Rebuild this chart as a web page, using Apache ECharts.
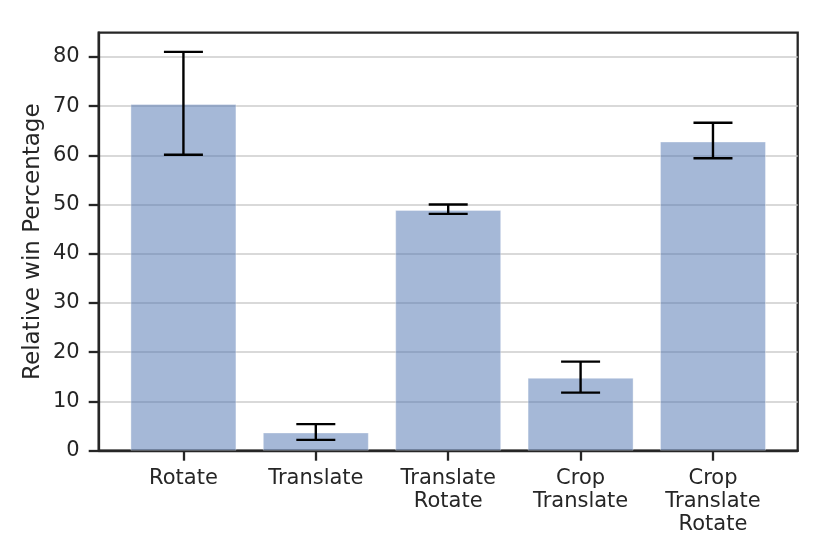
<!DOCTYPE html>
<html>
<head>
<meta charset="utf-8">
<script src="https://cdn.jsdelivr.net/npm/echarts@6/dist/echarts.min.js"></script>
<style>
html, body { margin: 0; padding: 0; background: #fff; }
#chart1 { width: 830px; height: 554px; }
</style>
</head>
<body>
<div id="chart1"></div>
<script>
// categories, one per bar
var categories = ["Rotate", "Translate", "Translate\nRotate", "Crop\nTranslate", "Crop\nTranslate\nRotate"];
var positions = [0, 1, 2, 3, 4];

// bar heights (relative win %)
var winPct = [70.4, 3.7, 48.9, 14.8, 62.8];

// error bar ends
var errLow = [60.1, 2.2, 48.1, 11.8, 59.4];
var errHigh = [81.0, 5.4, 50.0, 18.1, 66.6];

var yTicks = [0, 10, 20, 30, 40, 50, 60, 70, 80];

var textColor = "#262626";
var font = "DejaVu Sans";

var barData = [];
var errData = [];
for (let i = 0; i < positions.length; i++) {
	barData.push([positions[i], winPct[i]]);
	errData.push([positions[i], errLow[i], errHigh[i]]);
}

var chart = echarts.init(document.getElementById("chart1"));

//误差线
function renderErr(params, api) {
	var x = api.value(0);
	var lo = api.coord([x, api.value(1)]);
	var hi = api.coord([x, api.value(2)]);
	var half = 19.5;
	var st = { stroke: "#000", lineWidth: 2.4 };
	return {
		type: "group",
		children: [
			{ type: "line", shape: { x1: lo[0], y1: lo[1], x2: hi[0], y2: hi[1] }, style: st },
			{ type: "line", shape: { x1: lo[0] - half, y1: lo[1], x2: lo[0] + half, y2: lo[1] }, style: st },
			{ type: "line", shape: { x1: hi[0] - half, y1: hi[1], x2: hi[0] + half, y2: hi[1] }, style: st }
		]
	};
}

var option = {
	animation: false,
	backgroundColor: "#fff",
	grid: {
		left: 98.7,
		right: 32.3,
		top: 32.7,
		bottom: 103.3,
		show: true,
		borderColor: textColor,
		borderWidth: 2.3,
		backgroundColor: "transparent"
	},
	xAxis: {
		type: "value",
		min: -0.64,
		max: 4.64,
		splitLine: { show: false },
		axisLine: { show: true, onZero: false, lineStyle: { color: textColor, width: 2.3 } },
		axisTick: {
			show: true,
			customValues: positions,
			length: 10,
			lineStyle: { color: textColor, width: 2.3 }
		},
		axisLabel: {
			customValues: positions,
			margin: 16,
			color: textColor,
			fontFamily: font,
			fontSize: 21,
			lineHeight: 23,
			formatter: function (v) {
				return categories[Math.round(v)];
			}
		}
	},
	yAxis: {
		type: "value",
		min: 0,
		max: 84.9,
		name: "Relative win Percentage",
		nameLocation: "middle",
		nameGap: 54,
		nameMoveOverlap: false,
		nameTextStyle: { color: textColor, fontFamily: font, fontSize: 23 },
		axisLine: { show: true, onZero: false, lineStyle: { color: textColor, width: 2.3 } },
		axisTick: {
			show: true,
			customValues: yTicks,
			length: 10,
			lineStyle: { color: textColor, width: 2.3 }
		},
		axisLabel: {
			customValues: yTicks,
			margin: 19,
			color: textColor,
			fontFamily: font,
			fontSize: 21
		},
		splitLine: { show: true, lineStyle: { color: "#cccccc", width: 1.6 } }
	},
	series: [
		{
			type: "bar",
			data: barData,
			barWidth: 106,
			itemStyle: {
				color: "rgba(76,114,176,0.5)",
				borderColor: "rgba(255,255,255,0.35)",
				borderWidth: 1
			}
		},
		{
			type: "custom",
			data: errData,
			renderItem: renderErr,
			encode: { x: 0, y: [1, 2] },
			z: 5
		}
	]
};

chart.setOption(option);
</script>
</body>
</html>
